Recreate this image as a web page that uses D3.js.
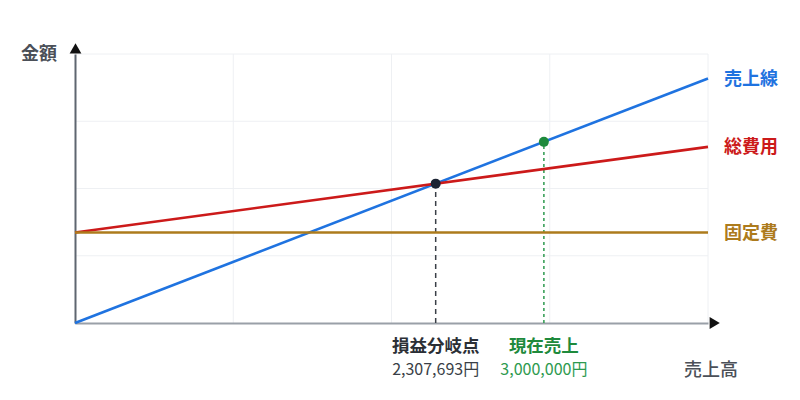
<!DOCTYPE html>
<html>
<head>
<meta charset="utf-8">
<script src="https://cdn.jsdelivr.net/npm/d3@7"></script>
<style>
  body { margin: 0; background: #fff; }
  svg text { font-family: "Noto Sans CJK JP", "Noto Sans", sans-serif; }
</style>
</head>
<body>
<svg id="chart"></svg>
<script>
// values
const fixedCost = 1500000;
const variableRatio = 0.35;
const salesMax = 4050000;
const amountMax = 4455000;
const breakEvenSales = 2307693;
const currentSales = 3000000;

const lineNames = ['売上線', '総費用', '固定費'];
const lineColors = ['#1f73e0', '#cc1a1a', '#ad7b1c'];
const xEnds = [0, salesMax];
const salesValues = [0, 4050000];
const totalCostValues = [1500000, 2917500];
const fixedCostValues = [1500000, 1500000];

const markerLabels = ['損益分岐点', '現在売上'];
const markerSales = [breakEvenSales, currentSales];
const markerValueText = ['2,307,693円', '3,000,000円'];

const width = 800;
const height = 400;
const margin = { top: 54, right: 92, bottom: 77, left: 75 };

const svg = d3.select('#chart')
  .attr('width', width)
  .attr('height', height);

const x = d3.scaleLinear()
  .domain([0, salesMax])
  .range([margin.left, width - margin.right]);

const y = d3.scaleLinear()
  .domain([0, amountMax])
  .range([height - margin.bottom, margin.top]);

// grid, 4 even steps each way
const gridX = d3.range(1, 5).map(i => salesMax * i / 4);
const gridY = d3.range(1, 5).map(i => amountMax * i / 4);

svg.append('g')
  .selectAll('line')
  .data(gridX)
  .join('line')
  .attr('x1', d => x(d)).attr('x2', d => x(d))
  .attr('y1', y(0)).attr('y2', y(amountMax))
  .attr('stroke', '#eef0f3')
  .attr('stroke-width', 1);

svg.append('g')
  .selectAll('line')
  .data(gridY)
  .join('line')
  .attr('x1', x(0)).attr('x2', x(salesMax))
  .attr('y1', d => y(d)).attr('y2', d => y(d))
  .attr('stroke', '#eef0f3')
  .attr('stroke-width', 1);

// axes with arrow heads
const xAxis = d3.axisBottom(x).tickValues([]).tickSizeOuter(0);
svg.append('g')
  .attr('transform', `translate(0, ${y(0)})`)
  .call(xAxis)
  .select('.domain')
  .attr('stroke', '#9aa0a8')
  .attr('stroke-width', 2);

const yAxis = d3.axisLeft(y).tickValues([]).tickSizeOuter(0);
svg.append('g')
  .attr('transform', `translate(${x(0)}, 0)`)
  .call(yAxis)
  .select('.domain')
  .attr('stroke', '#5f6670')
  .attr('stroke-width', 2);

svg.append('path')
  .attr('d', d3.symbol(d3.symbolTriangle, 60)())
  .attr('transform', `translate(${x(salesMax) + 5}, ${y(0)}) rotate(90)`)
  .attr('fill', '#111');

svg.append('path')
  .attr('d', d3.symbol(d3.symbolTriangle, 60)())
  .attr('transform', `translate(${x(0) + 0.5}, ${y(amountMax) - 4})`)
  .attr('fill', '#111');

svg.append('text')
  .attr('x', x(0) - 18)
  .attr('y', y(amountMax) + 1)
  .attr('text-anchor', 'end')
  .attr('dominant-baseline', 'middle')
  .attr('font-size', 18)
  .attr('font-weight', 700)
  .attr('fill', '#4b5058')
  .text('金額');

svg.append('text')
  .attr('x', x(salesMax) + 30)
  .attr('y', y(0) + 53)
  .attr('text-anchor', 'end')
  .attr('font-size', 18)
  .attr('font-weight', 500)
  .attr('fill', '#4b5058')
  .text('売上高');

// vertical guide lines
const markerColors = ['#3a3f47', '#2e9a4f'];
const markerDash = ['5,4', '3,3'];
markerSales.forEach((s, i) => {
  svg.append('line')
    .attr('x1', x(s)).attr('x2', x(s))
    .attr('y1', y(0)).attr('y2', y(s))
    .attr('stroke', markerColors[i])
    .attr('stroke-width', 1.5)
    .attr('stroke-dasharray', markerDash[i]);
});

// lines
const series = [salesValues, totalCostValues, fixedCostValues];
const line = d3.line()
  .x((d, i) => x(xEnds[i]))
  .y(d => y(d));

svg.append('g')
  .selectAll('path')
  .data(series)
  .join('path')
  .attr('d', d => line(d))
  .attr('fill', 'none')
  .attr('stroke', (d, i) => lineColors[i])
  .attr('stroke-width', 2.6);

svg.append('g')
  .selectAll('text')
  .data(series)
  .join('text')
  .attr('x', x(salesMax) + 16)
  .attr('y', d => y(d[1]) + 1.5)
  .attr('dominant-baseline', 'middle')
  .attr('font-size', 18)
  .attr('font-weight', 700)
  .attr('fill', (d, i) => lineColors[i])
  .text((d, i) => lineNames[i]);

// points
const pointColors = ['#1b2333', '#1e8a3c'];
svg.append('g')
  .selectAll('circle')
  .data(markerSales)
  .join('circle')
  .attr('cx', d => x(d))
  .attr('cy', d => y(d))
  .attr('r', 5)
  .attr('fill', (d, i) => pointColors[i]);

// labels under axis
const labelColors = ['#2b2f36', '#1e8a3c'];
const valueColors = ['#3a3f47', '#2e9a4f'];
svg.append('g')
  .selectAll('text')
  .data(markerSales)
  .join('text')
  .attr('x', d => x(d))
  .attr('y', y(0) + 29)
  .attr('text-anchor', 'middle')
  .attr('font-size', 17.5)
  .attr('font-weight', 700)
  .attr('fill', (d, i) => labelColors[i])
  .text((d, i) => markerLabels[i]);

svg.append('g')
  .selectAll('text')
  .data(markerSales)
  .join('text')
  .attr('x', d => x(d))
  .attr('y', y(0) + 52)
  .attr('text-anchor', 'middle')
  .attr('font-size', 16)
  .attr('fill', (d, i) => valueColors[i])
  .text((d, i) => markerValueText[i]);
</script>
</body>
</html>
